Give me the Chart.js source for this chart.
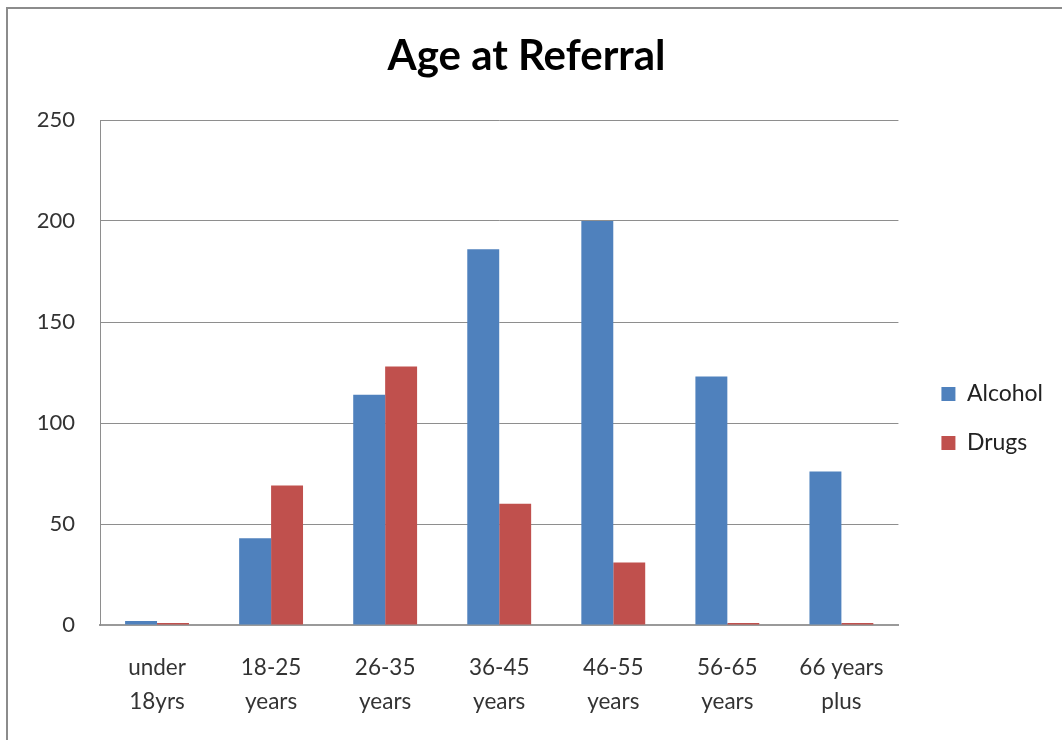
<!DOCTYPE html>
<html>
<head>
<meta charset="utf-8">
<script src="https://cdn.jsdelivr.net/npm/chart.js@4"></script>
<style>
  html, body { margin: 0; padding: 0; background: #fff; overflow: hidden; }
  #frame { position: absolute; left: 6px; top: 7px; width: 1100px; height: 800px; border: 2px solid #8c8c8c; box-sizing: border-box; }
  #chart { position: absolute; left: 0; top: 0; }
</style>
</head>
<body>
<div id="frame"></div>
<canvas id="chart" width="1062" height="740"></canvas>
<script>
// Age groups on the x axis
const categories = [['under', '18yrs'], ['18-25', 'years'], ['26-35', 'years'], ['36-45', 'years'], ['46-55', 'years'], ['56-65', 'years'], ['66 years', 'plus']];
// Referrals per group
const alcohol = [2, 43, 114, 186, 200, 123, 76];
const drugs = [1, 69, 128, 60, 31, 1, 1];
// Value axis
const yMin = 0;
const yMax = 250;
const yStep = 50;

document.addEventListener('DOMContentLoaded', function() {
    const font = 'Lato, Calibri, sans-serif';
    const ctx = document.getElementById('chart').getContext('2d');
    new Chart(ctx, {
        type: 'bar',
        data: {
            labels: categories,
            datasets: [{
                label: 'Alcohol',
                data: alcohol,
                backgroundColor: '#4f81bd',
                categoryPercentage: 0.56,
                barPercentage: 1.0
            }, {
                label: 'Drugs',
                data: drugs,
                backgroundColor: '#c0504d',
                categoryPercentage: 0.56,
                barPercentage: 1.0
            }]
        },
        options: {
            responsive: false,
            animation: false,
            layout: { padding: { left: 0, right: 9, top: 0, bottom: 0 } },
            plugins: {
                title: {
                    display: true,
                    text: 'Age at Referral',
                    color: '#000',
                    font: { family: font, size: 42, weight: 'bold', lineHeight: 1.2 },
                    padding: { top: 31, bottom: 38.6 }
                },
                legend: {
                    position: 'right',
                    align: 'center',
                    // empty title only pushes the items down to the middle of the plot
                    title: { display: true, text: ' ', font: { size: 10 }, padding: { top: 85, bottom: 0 } },
                    labels: {
                        color: '#222',
                        font: { family: font, size: 23 },
                        boxWidth: 14,
                        boxHeight: 14,
                        padding: 26
                    }
                },
                tooltip: { enabled: false }
            },
            scales: {
                x: {
                    grid: { display: false, drawTicks: false },
                    border: { display: true, color: '#9a9a9a', width: 2 },
                    ticks: {
                        color: '#333',
                        font: { family: font, size: 22.5, lineHeight: 1.5 },
                        padding: 26,
                        maxRotation: 0,
                        autoSkip: false
                    },
                    afterFit: function(scale) { scale.height = 115; }
                },
                y: {
                    min: yMin,
                    max: yMax,
                    grid: { color: '#8e8e8e', lineWidth: 1, drawTicks: false },
                    border: { display: true, color: '#8e8e8e', width: 1 },
                    ticks: {
                        stepSize: yStep,
                        color: '#333',
                        font: { family: font, size: 22 },
                        padding: 25
                    },
                    afterFit: function(scale) { scale.width = 100; }
                },
                gap: {
                    type: 'linear',
                    position: 'right',
                    display: true,
                    grid: { display: false, drawTicks: false },
                    border: { display: false },
                    ticks: { display: false },
                    afterFit: function(scale) { scale.width = 17; }
                }
            }
        }
    });
});
</script>
</body>
</html>
